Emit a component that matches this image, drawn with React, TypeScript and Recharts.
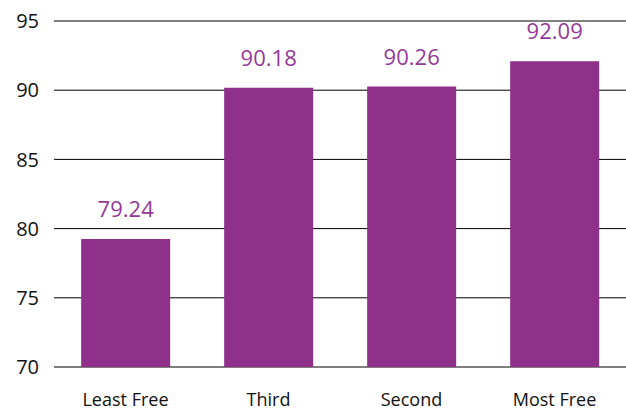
import { BarChart, Bar, XAxis, YAxis, CartesianGrid, LabelList } from "recharts";

const groups = ["Least Free", "Third", "Second", "Most Free"];
const scores = [79.24, 90.18, 90.26, 92.09];
const yTicks = [70, 75, 80, 85, 90, 95];

const data = groups.map((name, i) => ({ name, score: scores[i] }));

const PURPLE = "#8f308b";

export default function App() {
  return (
    <div style={{ position: "absolute", left: 0, top: 0, background: "#fff" }}>
      <BarChart width={626} height={412} data={data} margin={{ top: 21, right: 0, bottom: 0, left: 0 }} barCategoryGap="19%">
        <CartesianGrid vertical={false} stroke="#000" strokeWidth={1} />
        <XAxis
          dataKey="name"
          axisLine={false}
          tickLine={false}
          height={45}
          tick={{ fontSize: 18, fill: "#111", fontFamily: "Open Sans, sans-serif" }}
          dy={18}
        />
        <YAxis
          domain={[70, 95]}
          ticks={yTicks}
          axisLine={false}
          tickLine={false}
          width={54}
          tickMargin={9}
          tick={{ fontSize: 20, fill: "#111", fontFamily: "Open Sans, sans-serif" }}
        />
        <Bar dataKey="score" fill={PURPLE} isAnimationActive={false}>
          <LabelList
            dataKey="score"
            position="top"
            offset={22}
            formatter={(v: number) => v.toFixed(2)}
            style={{ fontSize: 22, fill: "#93399a", fontFamily: "Open Sans, sans-serif" }}
          />
        </Bar>
      </BarChart>
    </div>
  );
}
